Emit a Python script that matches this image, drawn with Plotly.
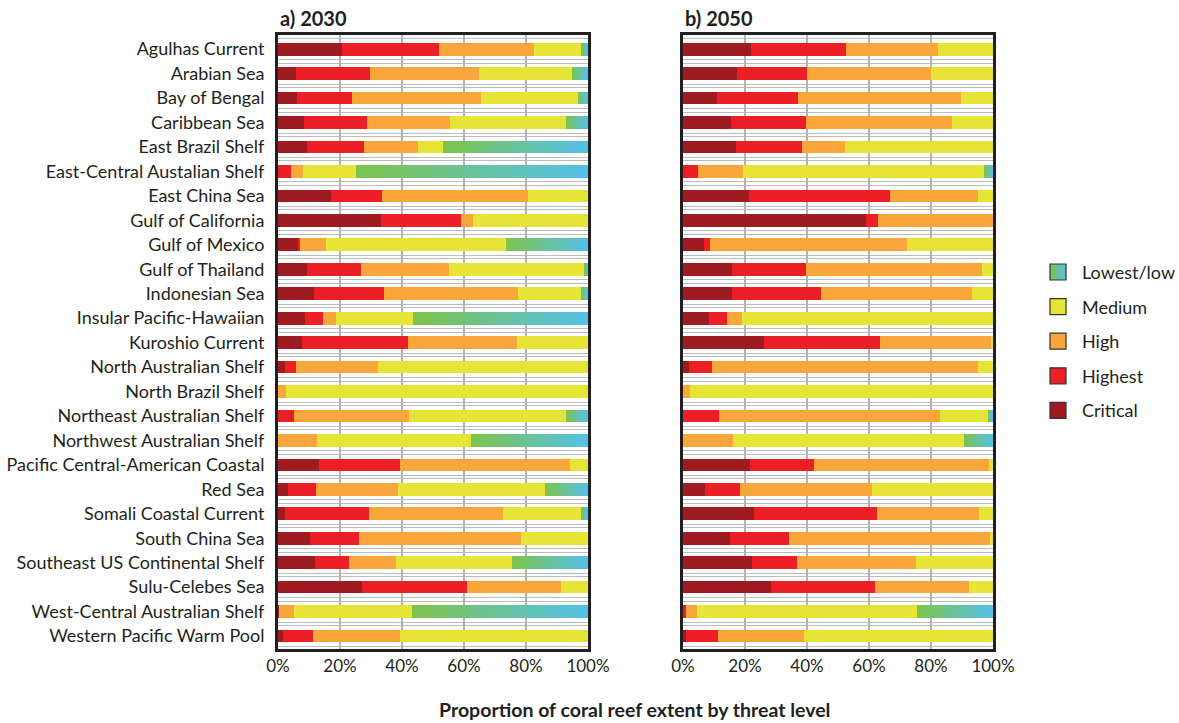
import plotly.graph_objects as go

# Marine ecoregions (top to bottom)
regions = [
    "Agulhas Current", "Arabian Sea", "Bay of Bengal", "Caribbean Sea",
    "East Brazil Shelf", "East-Central Austalian Shelf", "East China Sea",
    "Gulf of California", "Gulf of Mexico", "Gulf of Thailand",
    "Indonesian Sea", "Insular Pacific-Hawaiian", "Kuroshio Current",
    "North Australian Shelf", "North Brazil Shelf", "Northeast Australian Shelf",
    "Northwest Australian Shelf", "Pacific Central-American Coastal", "Red Sea",
    "Somali Coastal Current", "South China Sea", "Southeast US Continental Shelf",
    "Sulu-Celebes Sea", "West-Central Australian Shelf", "Western Pacific Warm Pool",
]

# Share of reef extent (%) per threat level, 2030
critical_2030 = [20.5, 5.7, 6.0, 8.5, 9.5, 0.0, 17.2, 33.2, 6.3, 9.2, 11.7, 8.8, 7.6,
                 2.1, 0.0, 0.0, 0.0, 13.3, 3.1, 2.1, 10.4, 12.0, 27.1, 0.3, 1.5]
highest_2030 = [31.5, 23.9, 17.9, 20.2, 18.2, 4.1, 16.3, 25.9, 0.9, 17.6, 22.4, 5.8, 34.2,
                3.6, 0.0, 5.3, 0.0, 25.9, 9.3, 27.2, 15.7, 10.9, 33.9, 0.0, 9.9]
high_2030 = [30.5, 35.2, 41.6, 26.8, 17.3, 4.1, 47.0, 3.8, 8.4, 28.4, 43.2, 4.2, 35.2,
             26.5, 2.6, 36.8, 12.7, 55.0, 26.2, 43.2, 52.2, 15.1, 30.4, 4.7, 27.8]
medium_2030 = [15.5, 30.1, 31.3, 37.5, 8.3, 17.0, 19.5, 37.1, 57.9, 43.8, 20.5, 24.9, 23.0,
               67.8, 97.4, 50.9, 49.6, 5.8, 47.6, 25.3, 21.7, 37.4, 8.6, 38.1, 60.8]
low_2030 = [2.0, 5.1, 3.2, 7.0, 46.7, 74.8, 0.0, 0.0, 26.5, 1.0, 2.2, 56.3, 0.0,
            0.0, 0.0, 7.0, 37.7, 0.0, 13.8, 2.2, 0.0, 24.6, 0.0, 56.9, 0.0]

# Share of reef extent (%) per threat level, 2050
critical_2050 = [21.8, 17.3, 10.9, 15.4, 17.0, 0.0, 21.2, 59.0, 6.7, 15.7, 15.7, 8.3, 26.0,
                 1.9, 0.0, 0.0, 0.0, 21.5, 7.1, 22.8, 15.1, 22.4, 28.5, 0.0, 1.0]
highest_2050 = [30.8, 22.8, 26.3, 24.3, 21.5, 4.8, 45.5, 3.8, 2.0, 24.0, 28.9, 5.8, 37.5,
                7.4, 0.0, 11.5, 0.0, 20.8, 11.2, 39.7, 19.2, 14.5, 33.4, 1.0, 10.2]
high_2050 = [29.8, 40.0, 52.5, 47.2, 13.7, 14.4, 28.5, 37.2, 63.7, 56.8, 48.7, 4.8, 35.9,
             85.9, 2.2, 71.5, 16.0, 56.4, 42.6, 33.0, 64.7, 38.4, 30.4, 3.5, 27.9]
medium_2050 = [17.6, 19.9, 10.3, 13.1, 47.8, 78.2, 4.8, 0.0, 27.6, 3.5, 6.7, 81.1, 0.6,
               4.8, 97.8, 15.4, 74.7, 1.3, 39.1, 4.5, 1.0, 24.7, 7.7, 71.1, 60.9]
low_2050 = [0.0, 0.0, 0.0, 0.0, 0.0, 2.6, 0.0, 0.0, 0.0, 0.0, 0.0, 0.0, 0.0,
            0.0, 0.0, 1.6, 9.3, 0.0, 0.0, 0.0, 0.0, 0.0, 0.0, 24.4, 0.0]

level_names = ["Critical", "Highest", "High", "Medium", "Lowest/low"]
level_colors = ["#9e1c21", "#ed1f26", "#f9a63a", "#e6e535"]
low_start = (126, 195, 75)   # green end of the low gradient
low_end = (84, 193, 234)     # blue end of the low gradient
N_SLICES = 30

FONT = "Lato"
TEXT = "#231f20"
FRAME = "#231f20"

# row positions on the y axis, and paired separator lines between rows
row_pos = list(range(len(regions)))
separators = []
for b in [p - 0.5 for p in row_pos] + [len(regions) - 0.5]:
    separators += [b - 0.07, b + 0.07]


def blend(t):
    r, g, b = (round(a + (c - a) * t) for a, c in zip(low_start, low_end))
    return f"rgb({r},{g},{b})"


fig = go.Figure()


def add_panel(xaxis, yaxis, series, low):
    for name, vals, col in zip(level_names[:4], series, level_colors):
        fig.add_trace(go.Bar(
            y=row_pos, x=vals, orientation="h", name=name,
            marker=dict(color=col, line=dict(width=0)), width=0.52,
            xaxis=xaxis, yaxis=yaxis, showlegend=False,
        ))
    # the low class is shaded green->blue along each bar's own segment
    for k in range(N_SLICES):
        fig.add_trace(go.Bar(
            y=row_pos, x=[v / N_SLICES for v in low], orientation="h",
            marker=dict(color=blend((k + 0.5) / N_SLICES), line=dict(width=0)),
            width=0.52, xaxis=xaxis, yaxis=yaxis, showlegend=False,
        ))


add_panel("x", "y", [critical_2030, highest_2030, high_2030, medium_2030], low_2030)
add_panel("x2", "y2", [critical_2050, highest_2050, high_2050, medium_2050], low_2050)

W, H = 1179, 723
y_dom = [1 - 649 / H, 1 - 35 / H]
xa = dict(range=[0, 100], tickvals=[0, 20, 40, 60, 80, 100],
          ticktext=["0%", "20%", "40%", "60%", "80%", "100%"],
          showgrid=True, gridcolor="#b3b3b3", gridwidth=2,
          showline=True, mirror=True, linecolor=FRAME, linewidth=3,
          zeroline=False, ticks="", ticklabelstandoff=0, automargin=False,
          tickfont=dict(family=FONT, size=17, color=TEXT), fixedrange=True)
ya = dict(range=[len(regions) - 0.47, -0.58], tickmode="array",
          tickvals=row_pos, ticktext=regions, showgrid=False,
          minor=dict(tickvals=separators, showgrid=True, gridcolor="#bcbcbc",
                     gridwidth=1.3, ticks=""),
          showline=True, mirror=True, linecolor=FRAME, linewidth=3,
          zeroline=False, ticks="", automargin=False, fixedrange=True)

fig.update_layout(
    template="none",
    width=W, height=H, autosize=False, barmode="stack", bargap=0.48,
    paper_bgcolor="white", plot_bgcolor="white",
    margin=dict(l=0, r=0, t=0, b=0, pad=0), showlegend=False,
    xaxis=dict(xa, domain=[278 / W, 588 / W], anchor="y"),
    xaxis2=dict(xa, domain=[683 / W, 993 / W], anchor="y2"),
    yaxis=dict(ya, domain=y_dom, anchor="x", ticklabelstandoff=7,
               tickfont=dict(family=FONT, size=18, color=TEXT)),
    yaxis2=dict(ya, domain=y_dom, anchor="x2", showticklabels=False),
    font=dict(family=FONT, color=TEXT),
)

# panel titles
for label, xpx in [("a) 2030", 278), ("b) 2050", 683)]:
    fig.add_annotation(text=f"<b>{label}</b>", xref="paper", yref="paper",
                       x=xpx / W, y=1 - 18 / H, xanchor="left", yanchor="middle",
                       showarrow=False, font=dict(family=FONT, size=20, color=TEXT))

# shared axis title
fig.add_annotation(text="<b>Proportion of coral reef extent by threat level</b>",
                   xref="paper", yref="paper", x=634 / W, y=1 - 709 / H,
                   xanchor="center", yanchor="middle", showarrow=False,
                   font=dict(family=FONT, size=19.5, color=TEXT))

# legend, top item first
legend_items = ["Lowest/low", "Medium", "High", "Highest", "Critical"]
legend_fill = [None, level_colors[3], level_colors[2], level_colors[1], level_colors[0]]
sw_x0, sw_size = 1050, 16
for i, (name, col) in enumerate(zip(legend_items, legend_fill)):
    cy = 272 + i * 34.6
    y0, y1 = 1 - (cy + sw_size / 2) / H, 1 - (cy - sw_size / 2) / H
    if col is None:
        steps = 16
        for k in range(steps):
            fig.add_shape(type="rect", xref="paper", yref="paper",
                          x0=(sw_x0 + k * sw_size / steps) / W,
                          x1=(sw_x0 + (k + 1) * sw_size / steps) / W,
                          y0=y0, y1=y1, line=dict(width=0),
                          fillcolor=blend((k + 0.5) / steps), layer="above")
    else:
        fig.add_shape(type="rect", xref="paper", yref="paper",
                      x0=sw_x0 / W, x1=(sw_x0 + sw_size) / W, y0=y0, y1=y1,
                      line=dict(width=0), fillcolor=col, layer="above")
    fig.add_shape(type="rect", xref="paper", yref="paper",
                  x0=sw_x0 / W, x1=(sw_x0 + sw_size) / W, y0=y0, y1=y1,
                  line=dict(color="#333333", width=1.2), fillcolor="rgba(0,0,0,0)",
                  layer="above")
    fig.add_annotation(text=name, xref="paper", yref="paper",
                       x=1080 / W, y=1 - cy / H, xanchor="left", yanchor="middle",
                       showarrow=False, font=dict(family=FONT, size=18, color=TEXT))

fig.write_html("out.html", config={"responsive": False})
